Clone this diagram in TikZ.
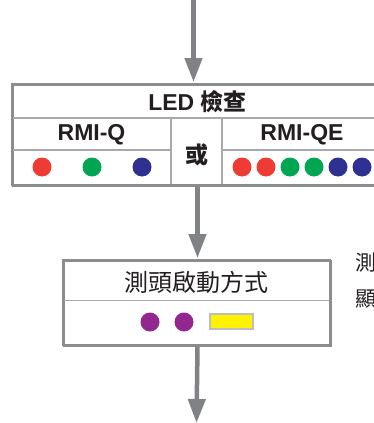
\documentclass[tikz,border=0pt]{standalone}
\usepackage{fontspec}
\setmainfont{Liberation Sans}
\newfontfamily\cjk{Noto Sans CJK TC}
\usetikzlibrary{arrows.meta}
\definecolor{txt}{HTML}{231F20}
\definecolor{frame}{HTML}{8A8C8E}
\definecolor{inner}{HTML}{A7A9AC}
\definecolor{arrowgray}{HTML}{808285}
\definecolor{ledred}{HTML}{EE3B33}
\definecolor{ledgreen}{HTML}{00A651}
\definecolor{ledblue}{HTML}{2E3192}
\definecolor{ledpurple}{HTML}{92278F}
\definecolor{ledyellow}{HTML}{FFF200}
\definecolor{ylborder}{HTML}{BCBEC0}
\begin{document}
\begin{tikzpicture}[x=1pt,y=-1pt,
  outerbox/.style={draw=frame,line width=2pt,inner sep=0pt,anchor=north west},
  innerline/.style={draw=inner,line width=1.2pt},
  arr/.style={draw=arrowgray,line width=4.5pt,-{Triangle[width=17pt,length=24pt]},arrowgray},
  boldtxt/.style={text=txt,font=\bfseries\fontsize{23}{23}\selectfont},
  cjktxt/.style={text=txt,font=\cjk\fontsize{24}{24}\selectfont},
  sidetxt/.style={text=txt,font=\cjk\fontsize{21}{21}\selectfont,anchor=west,inner sep=0pt},
  dot/.style={circle,inner sep=0pt,minimum size=19pt},
]
\useasboundingbox (0,0) rectangle (374,423);
\clip (0,0) rectangle (374,423);

% LED box
\node[outerbox,minimum width=390pt,minimum height=101pt] (led) at (12,84) {};
\draw[innerline] (12,118) -- (402,118);
\draw[innerline] (12,150) -- (171,150);
\draw[innerline] (222,150) -- (402,150);
\draw[innerline] (171,118) -- (171,185);
\draw[innerline] (222,118) -- (222,185);
\draw[draw=frame,line width=2pt] (12,84) rectangle (402,185);

\node[boldtxt] (ledtitle) at (197.5,102) {LED {\cjk 檢查}};
\node[boldtxt] (rmiq) at (91.5,135) {RMI-Q};
\node[boldtxt] (rmiqe) at (302,135) {RMI-QE};
\node[boldtxt,font=\cjk\bfseries\fontsize{23}{23}\selectfont] (or) at (196.5,155) {或};

\node[dot,fill=ledred] (q1) at (42,167) {};
\node[dot,fill=ledgreen] (q2) at (92,167) {};
\node[dot,fill=ledblue] (q3) at (142,167) {};
\node[dot,fill=ledred] (e1) at (242,167) {};
\node[dot,fill=ledred] (e2) at (266,167) {};
\node[dot,fill=ledgreen] (e3) at (290,167) {};
\node[dot,fill=ledgreen] (e4) at (314,167) {};
\node[dot,fill=ledblue] (e5) at (338,167) {};
\node[dot,fill=ledblue] (e6) at (362,167) {};

% probe box
\node[outerbox,minimum width=267pt,minimum height=85pt] (probe) at (63,260) {};
\draw[innerline] (63,300.5) -- (330,300.5);
\draw[draw=frame,line width=2pt] (63,260) rectangle (330,345);
\node[cjktxt] (ptitle) at (196.5,282.5) {測頭啟動方式};
\node[dot,fill=ledpurple] (p1) at (150,322) {};
\node[dot,fill=ledpurple] (p2) at (184,322) {};
\node[draw=ylborder,line width=2pt,fill=ledyellow,minimum width=43pt,minimum height=15pt,inner sep=0pt] (yl) at (231.5,321.5) {};

% side text (clipped at the right edge, as in the reference)
\node[sidetxt] (s1) at (355,263) {測};
\node[sidetxt] (s2) at (355,299) {顯};

% arrows
\coordinate (topstart) at (193.5,0);
\coordinate (botend) at (196.5,423);
\draw[arr,shorten >=2pt] (topstart) -- (topstart |- led.north);
\draw[arr,shorten >=2pt] (probe.north |- led.south) -- (probe.north);
\draw[arr] (probe.south) -- (botend);
\end{tikzpicture}
\end{document}
